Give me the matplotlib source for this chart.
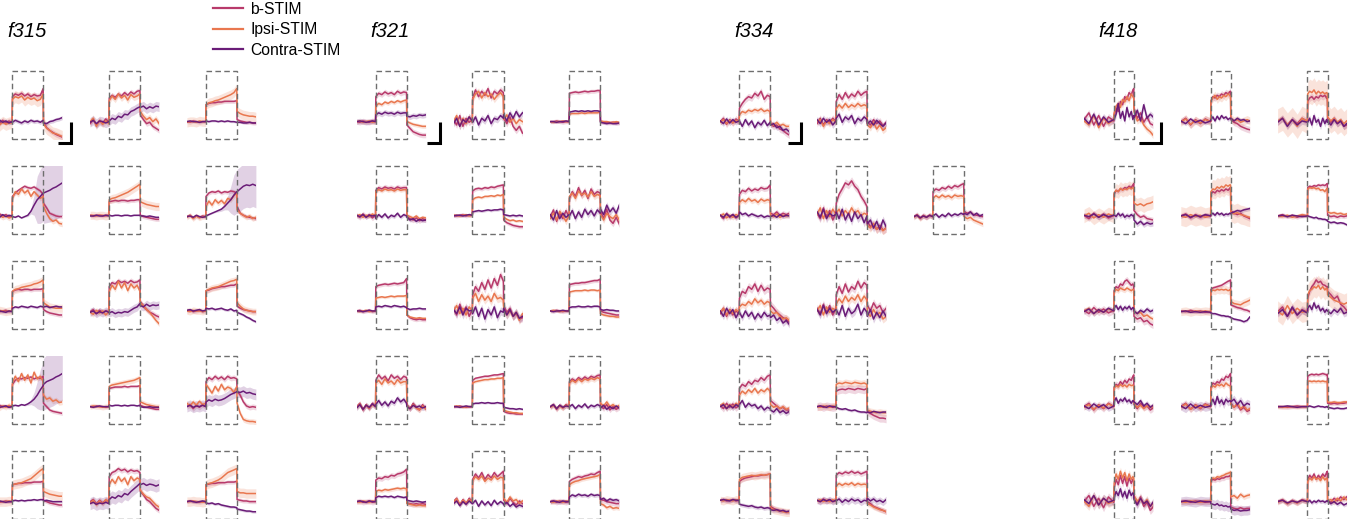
import numpy as np
import matplotlib.pyplot as plt
from matplotlib.patches import Rectangle
from matplotlib.lines import Line2D

plt.rcParams['font.family'] = ['Liberation Sans', 'DejaVu Sans']

# time axes (s); stimulus window is 0..stim
t_std = [-3, -2.5, -2, -1.5, -1, -0.5, 0, 0.05, 0.5, 1, 1.5, 2, 2.5, 3, 3.5, 4, 4.5, 4.95,
         5, 5.5, 6, 6.5, 7, 7.5, 8]
t_418 = [-2.75, -2.3, -1.85, -1.4, -0.95, -0.5, 0, 0.02, 0.2, 0.4, 0.6, 0.8, 1.0, 1.2, 1.4, 1.6,
         1.75, 1.83, 1.85, 2.15, 2.45, 2.75, 3.05, 3.35, 3.6]
stim_std = 5
stim_418 = 1.85

fish = ['f315', 'f321', 'f334', 'f418']
conditions = ['b-STIM', 'Ipsi-STIM', 'Contra-STIM']
colors = ['#b83a6b', '#e9774f', '#6a1c78']

# traces in % of the window height, 15 cells per fish (5 rows x 3 cols)
f315_b = [
    [24, 28, 22, 27, 23, 26, 24, 62, 66, 64, 67, 63, 66, 62, 65, 63, 64, 74, 24, 16, 12, 9, 6, 4, 2],
    [22, 28, 20, 26, 23, 29, 24, 60, 64, 61, 66, 63, 68, 64, 69, 66, 70, 71, 35, 28, 22, 24, 18, 15, 12],
    [25, 24, 26, 25, 24, 25, 25, 50, 52, 53, 53, 54, 54, 55, 55, 55, 55, 56, 28, 26, 25, 24, 24, 23, 23],
    [27, 25, 29, 26, 28, 25, 27, 55, 60, 64, 67, 70, 68, 67, 69, 66, 63, 58, 45, 38, 30, 28, 26, 25, 25],
    [27, 26, 27, 27, 26, 27, 27, 47, 48, 49, 48, 49, 49, 48, 49, 49, 50, 50, 27, 25, 24, 23, 22, 21, 21],
    [25, 27, 23, 26, 24, 26, 25, 55, 60, 62, 61, 63, 60, 62, 61, 63, 62, 60, 40, 30, 27, 25, 24, 23, 22],
    [26, 27, 25, 26, 27, 25, 26, 55, 57, 58, 57, 58, 58, 57, 58, 58, 58, 59, 28, 25, 23, 22, 21, 20, 20],
    [25, 28, 22, 27, 24, 26, 25, 62, 68, 66, 71, 68, 70, 67, 71, 68, 69, 72, 40, 33, 28, 24, 22, 19, 17],
    [26, 27, 25, 26, 27, 25, 26, 56, 57, 59, 60, 61, 62, 62, 63, 64, 64, 66, 33, 30, 28, 27, 26, 25, 25],
    [26, 24, 27, 25, 26, 24, 26, 58, 64, 67, 66, 68, 67, 69, 66, 68, 67, 70, 30, 25, 20, 18, 17, 16, 15],
    [25, 25, 26, 25, 25, 24, 25, 52, 53, 54, 54, 54, 55, 54, 55, 55, 55, 56, 27, 25, 24, 23, 22, 21, 21],
    [25, 28, 22, 27, 24, 28, 25, 62, 68, 65, 70, 66, 69, 65, 70, 67, 68, 66, 48, 42, 32, 26, 24, 25, 24],
    [25, 25, 24, 25, 26, 25, 25, 50, 51, 52, 52, 53, 53, 53, 54, 54, 54, 55, 27, 25, 23, 22, 21, 20, 20],
    [25, 28, 22, 27, 23, 27, 25, 62, 68, 70, 74, 71, 73, 69, 72, 70, 71, 68, 40, 35, 28, 25, 20, 15, 12],
    [25, 26, 25, 25, 24, 25, 25, 50, 51, 52, 52, 53, 53, 53, 54, 54, 54, 55, 28, 27, 26, 26, 25, 25, 25],
]
f315_i = [
    [22, 25, 20, 24, 21, 23, 23, 58, 62, 60, 63, 57, 61, 58, 60, 56, 58, 66, 22, 15, 12, 8, 7, 5, 3],
    [25, 30, 18, 27, 21, 26, 22, 56, 63, 58, 66, 60, 64, 57, 65, 61, 63, 66, 40, 33, 28, 31, 25, 29, 22],
    [24, 25, 25, 24, 26, 25, 25, 50, 53, 54, 56, 57, 59, 61, 63, 65, 68, 74, 40, 37, 35, 34, 33, 33, 32],
    [25, 22, 27, 24, 26, 23, 25, 52, 62, 58, 66, 60, 64, 55, 62, 57, 52, 55, 40, 30, 22, 18, 20, 15, 14],
    [27, 27, 26, 27, 27, 26, 27, 50, 52, 53, 55, 57, 59, 61, 64, 67, 70, 73, 47, 45, 43, 42, 41, 40, 40],
    [24, 27, 22, 26, 23, 25, 25, 40, 48, 42, 50, 45, 49, 44, 52, 50, 56, 60, 35, 30, 27, 24, 26, 22, 24],
    [26, 25, 27, 26, 25, 26, 26, 55, 58, 59, 61, 62, 63, 64, 66, 67, 69, 72, 38, 35, 32, 31, 30, 30, 30],
    [24, 21, 27, 23, 26, 20, 25, 55, 64, 58, 70, 60, 68, 56, 66, 60, 64, 55, 38, 34, 28, 24, 18, 12, 7],
    [26, 25, 27, 26, 26, 25, 26, 56, 58, 60, 61, 62, 64, 66, 68, 70, 71, 73, 38, 33, 29, 27, 26, 25, 25],
    [25, 27, 23, 26, 24, 27, 25, 60, 70, 62, 74, 64, 72, 60, 76, 66, 70, 62, 42, 36, 38, 33, 35, 31, 32],
    [25, 26, 25, 25, 24, 25, 25, 55, 57, 58, 59, 60, 61, 62, 63, 64, 66, 68, 32, 30, 28, 27, 26, 25, 25],
    [30, 26, 32, 27, 33, 28, 30, 58, 52, 45, 55, 48, 58, 50, 54, 52, 46, 55, 30, 15, 6, 4, 3, 3, 2],
    [25, 24, 25, 25, 25, 26, 25, 50, 51, 52, 53, 55, 57, 59, 63, 67, 71, 74, 40, 38, 36, 35, 34, 33, 33],
    [23, 27, 20, 26, 22, 28, 24, 50, 58, 52, 62, 55, 60, 50, 62, 56, 60, 58, 42, 36, 32, 30, 25, 20, 17],
    [25, 25, 26, 25, 25, 24, 25, 50, 52, 53, 55, 57, 60, 64, 68, 70, 72, 74, 40, 38, 38, 37, 37, 37, 37],
]
f315_c = [
    [26, 22, 27, 24, 26, 23, 25, 24, 27, 25, 23, 26, 24, 27, 25, 26, 24, 27, 23, 22, 25, 26, 28, 29, 31],
    [24, 27, 22, 26, 25, 23, 25, 26, 30, 28, 33, 31, 36, 35, 40, 42, 45, 47, 46, 48, 44, 47, 45, 48, 47],
    [25, 26, 25, 25, 24, 25, 25, 26, 25, 26, 26, 25, 26, 25, 26, 25, 25, 24, 24, 24, 23, 23, 24, 23, 23],
    [27, 26, 24, 28, 25, 27, 26, 25, 24, 26, 23, 25, 27, 33, 42, 50, 55, 60, 60, 62, 64, 67, 69, 72, 75],
    [26, 26, 27, 26, 26, 27, 26, 27, 26, 27, 27, 26, 27, 27, 26, 27, 27, 27, 26, 26, 25, 26, 25, 24, 24],
    [25, 26, 24, 27, 25, 24, 25, 26, 28, 30, 32, 34, 36, 40, 45, 50, 57, 62, 62, 66, 70, 72, 71, 73, 71],
    [25, 24, 26, 25, 24, 26, 25, 30, 32, 31, 33, 32, 31, 33, 32, 31, 33, 32, 32, 33, 31, 32, 33, 32, 32],
    [24, 26, 22, 25, 23, 26, 24, 23, 25, 22, 24, 23, 25, 24, 27, 30, 32, 37, 34, 32, 36, 33, 35, 34, 35],
    [27, 28, 26, 27, 28, 26, 27, 30, 29, 30, 28, 29, 30, 28, 27, 29, 26, 27, 24, 22, 20, 17, 15, 12, 10],
    [25, 26, 24, 25, 26, 24, 25, 26, 27, 26, 28, 27, 29, 32, 36, 42, 50, 56, 58, 62, 64, 66, 69, 71, 74],
    [25, 24, 25, 26, 25, 25, 25, 27, 26, 27, 27, 26, 27, 26, 27, 27, 26, 27, 25, 24, 24, 25, 24, 24, 24],
    [25, 27, 24, 26, 25, 27, 25, 32, 35, 33, 36, 34, 35, 37, 40, 43, 45, 47, 47, 46, 48, 45, 46, 44, 43],
    [25, 25, 26, 25, 24, 25, 25, 26, 27, 26, 27, 26, 27, 27, 28, 27, 28, 28, 26, 27, 26, 25, 25, 25, 25],
    [22, 24, 21, 23, 22, 24, 22, 28, 32, 30, 34, 32, 37, 35, 40, 44, 48, 52, 50, 52, 49, 51, 50, 48, 50],
    [25, 26, 25, 24, 25, 26, 25, 23, 22, 23, 21, 22, 20, 19, 18, 17, 17, 16, 14, 13, 12, 11, 11, 10, 10],
]
# the contra traces that drift late in the window have wide error bands
f315_c_sem_r2c1 = [1, 1, 1, 1, 1, 1, 1, 1, 1, 1, 1, 1, 2, 4, 15, 35, 40, 42, 45, 46, 47, 48, 48, 48, 48]
f315_c_sem_r2c3 = [1, 1, 1, 1, 1, 1, 1, 1, 1, 1, 1, 2, 3, 5, 10, 20, 30, 32, 33, 33, 33, 33, 33, 33, 33]
f315_c_sem_r4c1 = [1, 1, 1, 1, 1, 1, 1, 1, 1, 1, 1, 1, 2, 4, 10, 20, 30, 35, 38, 40, 40, 40, 40, 40, 40]
f315_sem = [[4, 9, 3], [4, 5, 7], [3, 7, 1.5],
            [3, 4, f315_c_sem_r2c1], [3, 6, 1], [3, 4, f315_c_sem_r2c3],
            [3, 6, 2], [4, 4, 6], [3, 5, 2],
            [3, 4, f315_c_sem_r4c1], [2, 4, 1], [4, 4, 8],
            [3, 7, 1.5], [4, 4, 9], [3, 7, 2]]

f321_b = [
    [25, 24, 26, 25, 24, 26, 25, 62, 67, 65, 69, 66, 68, 65, 70, 67, 69, 68, 20, 15, 10, 8, 6, 5, 5],
    [28, 20, 34, 18, 30, 24, 28, 60, 72, 62, 70, 64, 74, 60, 70, 66, 72, 68, 30, 22, 32, 18, 12, 18, 8],
    [25, 25, 26, 25, 24, 25, 25, 67, 68, 69, 68, 69, 70, 69, 70, 70, 71, 71, 25, 24, 24, 23, 24, 23, 23],
    [27, 24, 29, 25, 28, 23, 27, 64, 68, 66, 69, 67, 68, 66, 69, 67, 68, 68, 25, 22, 20, 23, 19, 22, 20],
    [27, 26, 27, 28, 26, 27, 27, 63, 66, 67, 66, 68, 67, 69, 68, 70, 71, 72, 20, 16, 14, 12, 11, 10, 10],
    [25, 35, 18, 30, 22, 34, 24, 52, 62, 55, 68, 56, 64, 52, 66, 58, 62, 60, 32, 22, 36, 20, 15, 24, 14],
    [26, 27, 25, 26, 27, 25, 26, 62, 64, 65, 66, 65, 66, 67, 66, 67, 68, 74, 20, 16, 14, 13, 14, 13, 13],
    [30, 20, 36, 24, 32, 18, 28, 50, 62, 55, 68, 58, 72, 60, 74, 64, 80, 70, 34, 24, 30, 18, 22, 14, 16],
    [26, 26, 27, 26, 25, 26, 26, 65, 66, 67, 67, 68, 68, 69, 70, 71, 71, 73, 26, 24, 23, 22, 21, 20, 20],
    [25, 30, 20, 28, 22, 30, 25, 64, 72, 66, 70, 63, 72, 67, 70, 65, 70, 68, 28, 22, 30, 24, 20, 28, 22],
    [25, 25, 26, 25, 24, 25, 25, 64, 67, 68, 69, 70, 70, 71, 72, 72, 73, 74, 18, 16, 15, 15, 14, 14, 14],
    [25, 28, 21, 27, 23, 28, 25, 62, 66, 63, 68, 65, 69, 66, 70, 68, 71, 72, 26, 22, 28, 20, 25, 21, 24],
    [25, 26, 24, 25, 26, 24, 25, 57, 60, 59, 62, 61, 64, 63, 66, 67, 69, 73, 23, 22, 21, 22, 21, 22, 21],
    [25, 30, 20, 28, 22, 30, 25, 58, 66, 60, 68, 58, 65, 60, 68, 62, 66, 70, 27, 22, 30, 24, 20, 26, 22],
    [25, 26, 24, 26, 25, 24, 25, 55, 58, 60, 62, 61, 63, 64, 66, 65, 68, 70, 28, 27, 25, 24, 23, 22, 22],
]
f321_i = [
    [25, 26, 24, 25, 26, 24, 25, 48, 52, 50, 54, 52, 55, 53, 56, 54, 56, 57, 25, 23, 21, 20, 19, 18, 18],
    [25, 34, 18, 30, 22, 32, 24, 58, 66, 70, 60, 68, 62, 66, 58, 64, 68, 62, 28, 35, 24, 30, 22, 28, 25],
    [25, 24, 25, 25, 26, 25, 25, 36, 37, 37, 37, 38, 37, 38, 38, 38, 38, 39, 26, 25, 25, 24, 24, 25, 24],
    [26, 28, 24, 27, 25, 29, 26, 62, 65, 63, 66, 64, 65, 63, 66, 64, 65, 65, 27, 25, 23, 26, 22, 24, 23],
    [27, 27, 26, 27, 28, 26, 27, 50, 53, 54, 53, 55, 55, 56, 55, 57, 56, 58, 24, 21, 19, 20, 18, 19, 18],
    [22, 30, 20, 33, 26, 18, 27, 55, 60, 52, 63, 57, 60, 54, 62, 55, 58, 56, 28, 20, 30, 25, 22, 28, 20],
    [26, 25, 26, 27, 25, 26, 26, 45, 46, 47, 46, 47, 48, 47, 48, 48, 48, 49, 20, 17, 16, 15, 16, 15, 15],
    [26, 34, 22, 30, 20, 32, 26, 45, 52, 40, 50, 42, 48, 40, 52, 44, 46, 42, 28, 20, 26, 18, 24, 12, 22],
    [26, 27, 26, 25, 26, 26, 26, 54, 55, 56, 56, 56, 57, 56, 57, 57, 56, 57, 22, 20, 19, 18, 18, 17, 17],
    [24, 29, 21, 27, 23, 28, 25, 60, 64, 58, 66, 60, 63, 58, 65, 60, 62, 62, 26, 22, 28, 23, 20, 26, 22],
    [25, 26, 25, 24, 25, 25, 25, 60, 62, 63, 64, 65, 65, 66, 66, 67, 67, 68, 20, 18, 17, 16, 16, 15, 15],
    [24, 27, 22, 26, 23, 27, 25, 60, 64, 61, 66, 62, 66, 64, 67, 65, 68, 66, 30, 26, 32, 25, 28, 24, 27],
    [25, 24, 26, 25, 24, 26, 25, 40, 42, 41, 43, 42, 43, 44, 45, 44, 45, 44, 22, 21, 20, 19, 20, 19, 19],
    [24, 29, 21, 27, 23, 28, 25, 56, 62, 58, 63, 55, 60, 57, 63, 58, 61, 60, 30, 24, 32, 26, 28, 22, 26],
    [25, 24, 26, 25, 24, 26, 25, 50, 53, 55, 56, 58, 59, 60, 61, 62, 63, 65, 22, 20, 16, 18, 15, 16, 15],
]
f321_c = [
    [25, 26, 25, 24, 25, 26, 25, 35, 38, 36, 39, 37, 38, 36, 39, 37, 38, 38, 33, 32, 34, 33, 35, 34, 35],
    [22, 30, 18, 28, 24, 32, 26, 24, 32, 20, 30, 26, 34, 22, 30, 28, 34, 30, 35, 26, 38, 30, 40, 32, 38],
    [25, 25, 24, 25, 25, 26, 25, 39, 40, 41, 40, 41, 40, 41, 40, 41, 41, 40, 24, 23, 22, 23, 22, 22, 23],
    [27, 25, 28, 24, 27, 26, 27, 22, 28, 24, 29, 23, 27, 25, 30, 24, 28, 26, 24, 20, 22, 18, 21, 19, 20],
    [26, 27, 27, 26, 27, 28, 27, 32, 33, 34, 33, 34, 35, 34, 35, 35, 36, 35, 28, 27, 26, 27, 26, 27, 26],
    [28, 20, 34, 22, 30, 24, 28, 26, 34, 22, 32, 24, 36, 28, 34, 26, 35, 30, 36, 28, 42, 32, 38, 30, 42],
    [26, 26, 25, 26, 27, 26, 26, 32, 33, 32, 34, 33, 32, 34, 33, 32, 33, 31, 30, 28, 29, 29, 30, 29, 29],
    [28, 22, 32, 20, 30, 26, 27, 22, 32, 18, 30, 14, 28, 20, 32, 16, 26, 24, 30, 20, 28, 18, 24, 15, 18],
    [26, 25, 26, 26, 27, 26, 26, 31, 32, 32, 33, 32, 32, 33, 32, 33, 33, 32, 28, 27, 28, 27, 27, 26, 26],
    [23, 28, 21, 27, 24, 29, 25, 28, 34, 27, 32, 26, 33, 30, 38, 32, 36, 30, 25, 22, 27, 24, 26, 23, 25],
    [25, 25, 24, 25, 26, 25, 25, 29, 30, 30, 31, 30, 31, 30, 30, 31, 30, 30, 24, 23, 22, 22, 21, 22, 21],
    [25, 28, 22, 27, 24, 26, 25, 25, 28, 22, 27, 24, 29, 23, 27, 25, 28, 26, 23, 27, 21, 25, 22, 26, 23],
    [25, 26, 25, 24, 26, 25, 25, 31, 33, 32, 33, 32, 33, 31, 33, 32, 31, 32, 27, 26, 25, 26, 25, 24, 25],
    [22, 26, 19, 25, 21, 26, 22, 22, 27, 18, 26, 20, 25, 19, 27, 21, 25, 22, 20, 24, 18, 22, 17, 20, 18],
    [25, 26, 25, 24, 26, 25, 25, 32, 35, 33, 36, 34, 35, 33, 36, 34, 35, 34, 28, 30, 26, 29, 27, 28, 26],
]
f321_sem = [[4, 3, 4], [5, 5, 5], [3, 2, 2], [4, 3, 3], [3, 2, 2], [5, 5, 5], [3, 2, 2], [6, 6, 6],
            [3, 2, 2], [4, 4, 4], [2, 2, 1.5], [4, 4, 3], [4, 3, 2], [4, 4, 3], [4, 3, 3]]

f334_b = [
    [25, 30, 21, 28, 23, 29, 25, 45, 52, 58, 62, 60, 67, 63, 70, 58, 64, 62, 22, 18, 20, 14, 12, 8, 5],
    [22, 30, 20, 28, 24, 30, 25, 55, 65, 58, 68, 60, 66, 62, 70, 64, 68, 70, 25, 20, 28, 22, 26, 19, 24],
    None,
    [27, 22, 30, 24, 28, 23, 27, 58, 64, 62, 67, 63, 66, 64, 68, 66, 67, 72, 30, 28, 32, 27, 30, 28, 30],
    [30, 22, 38, 25, 34, 20, 30, 45, 58, 66, 75, 72, 78, 70, 65, 55, 48, 40, 18, 10, 14, 6, 12, 5, 8],
    [25, 28, 23, 27, 24, 27, 25, 62, 66, 64, 68, 66, 70, 67, 71, 69, 72, 74, 33, 30, 32, 28, 27, 26, 25],
    [22, 30, 18, 28, 20, 26, 22, 45, 55, 52, 62, 58, 66, 55, 64, 56, 60, 58, 35, 30, 24, 20, 16, 14, 10],
    [30, 22, 36, 24, 34, 20, 30, 50, 62, 52, 66, 54, 62, 58, 70, 60, 68, 64, 35, 26, 38, 30, 34, 24, 30],
    None,
    [27, 22, 30, 24, 29, 23, 27, 52, 58, 55, 62, 58, 64, 62, 68, 64, 70, 72, 34, 30, 26, 22, 24, 20, 20],
    [25, 26, 24, 26, 25, 24, 25, 48, 50, 51, 50, 52, 51, 50, 52, 51, 50, 52, 18, 15, 12, 10, 8, 8, 7],
    None,
    [27, 28, 26, 27, 28, 26, 27, 55, 58, 60, 61, 62, 63, 63, 64, 64, 65, 66, 18, 15, 13, 12, 11, 10, 10],
    [27, 25, 29, 26, 28, 25, 27, 64, 68, 66, 69, 67, 70, 67, 69, 66, 68, 70, 25, 22, 18, 16, 14, 12, 10],
    None,
]
f334_i = [
    [24, 28, 22, 27, 23, 27, 25, 35, 40, 38, 42, 40, 43, 41, 44, 40, 42, 40, 22, 20, 24, 19, 21, 18, 18],
    [25, 28, 18, 26, 22, 28, 24, 44, 50, 45, 52, 46, 50, 47, 52, 48, 50, 48, 20, 16, 24, 14, 20, 12, 16],
    None,
    [26, 29, 23, 27, 24, 28, 26, 46, 50, 47, 52, 48, 50, 46, 51, 48, 50, 49, 27, 25, 29, 24, 27, 26, 27],
    [28, 38, 22, 34, 25, 36, 28, 30, 36, 26, 34, 28, 38, 30, 34, 26, 30, 28, 12, 8, 15, 6, 10, 4, 8],
    [24, 27, 22, 26, 24, 27, 25, 52, 56, 53, 57, 54, 56, 53, 57, 55, 56, 55, 25, 22, 24, 20, 18, 16, 14],
    [24, 30, 20, 28, 22, 28, 24, 32, 36, 34, 40, 36, 44, 38, 42, 36, 40, 38, 26, 22, 24, 18, 14, 16, 12],
    [26, 34, 20, 32, 24, 30, 26, 36, 44, 38, 48, 40, 46, 42, 50, 40, 48, 42, 24, 18, 28, 20, 24, 14, 18],
    None,
    [26, 30, 22, 28, 24, 30, 26, 42, 48, 44, 50, 46, 52, 45, 50, 47, 52, 48, 28, 24, 26, 22, 25, 21, 23],
    [25, 24, 26, 25, 24, 26, 25, 58, 60, 59, 61, 60, 59, 61, 60, 59, 60, 58, 20, 18, 17, 16, 17, 16, 16],
    None,
    [27, 26, 28, 27, 26, 28, 27, 58, 61, 62, 63, 64, 63, 64, 65, 64, 65, 66, 16, 13, 12, 11, 10, 9, 9],
    [26, 28, 25, 27, 25, 28, 26, 48, 52, 49, 52, 50, 53, 49, 52, 50, 51, 50, 22, 20, 17, 15, 13, 12, 10],
    None,
]
f334_c = [
    [26, 22, 29, 23, 28, 24, 26, 26, 18, 28, 20, 26, 16, 24, 20, 27, 19, 24, 20, 22, 16, 18, 12, 14, 10],
    [28, 22, 30, 24, 28, 20, 26, 30, 36, 24, 32, 28, 34, 22, 30, 26, 32, 28, 22, 26, 20, 27, 22, 18, 23],
    None,
    [27, 24, 29, 25, 28, 24, 27, 32, 28, 30, 26, 29, 27, 25, 27, 24, 26, 25, 25, 27, 24, 28, 25, 27, 26],
    [32, 24, 36, 22, 30, 26, 28, 32, 22, 36, 20, 30, 18, 32, 22, 28, 16, 26, 14, 20, 8, 18, 6, 20, 10],
    [25, 27, 23, 26, 24, 27, 25, 26, 29, 24, 28, 25, 30, 26, 29, 27, 30, 28, 30, 28, 32, 27, 30, 26, 28],
    [26, 18, 30, 22, 28, 16, 25, 24, 16, 26, 18, 24, 14, 22, 16, 24, 18, 20, 16, 20, 12, 16, 8, 12, 6],
    [28, 20, 34, 22, 30, 24, 28, 28, 20, 34, 18, 30, 22, 26, 36, 20, 30, 24, 18, 28, 14, 24, 16, 26, 18],
    None,
    [25, 28, 22, 27, 23, 28, 25, 28, 34, 24, 30, 26, 28, 22, 26, 20, 24, 22, 20, 17, 22, 16, 19, 15, 18],
    [25, 26, 25, 24, 26, 25, 25, 24, 22, 21, 22, 20, 19, 20, 18, 17, 17, 16, 17, 16, 18, 17, 16, 17, 17],
    None,
    [27, 28, 27, 26, 28, 27, 27, 21, 20, 19, 18, 19, 17, 16, 17, 15, 16, 15, 13, 12, 13, 11, 12, 10, 11],
    [27, 25, 28, 26, 28, 25, 27, 26, 29, 24, 28, 25, 29, 26, 28, 24, 27, 26, 30, 26, 29, 25, 27, 24, 28],
    None,
]
f334_sem = [[5, 4, 4], [5, 5, 5], None, [4, 4, 3], [6, 6, 6], [4, 4, 3], [6, 5, 5], [6, 6, 6],
            None, [5, 4, 4], [6, 5, 2], None, [4, 6, 3], [4, 4, 5], None]

f418_b = [
    [28, 38, 20, 34, 18, 32, 26, 35, 45, 40, 55, 50, 62, 58, 68, 64, 72, 74, 45, 30, 38, 24, 32, 22, 20],
    [25, 30, 20, 28, 22, 29, 25, 55, 62, 60, 64, 62, 66, 64, 68, 66, 69, 70, 28, 24, 22, 18, 16, 14, 13],
    [25, 30, 20, 28, 22, 30, 25, 55, 60, 62, 58, 62, 60, 64, 62, 64, 60, 62, 28, 24, 30, 22, 26, 18, 20],
    [27, 22, 30, 24, 29, 23, 27, 58, 64, 62, 66, 65, 68, 67, 70, 68, 72, 74, 34, 28, 24, 26, 22, 21, 20],
    [26, 29, 23, 28, 24, 27, 26, 58, 62, 60, 64, 62, 65, 63, 66, 64, 67, 68, 34, 30, 28, 30, 26, 24, 22],
    [26, 28, 25, 27, 24, 27, 26, 68, 70, 69, 71, 70, 72, 71, 72, 71, 73, 74, 27, 25, 26, 24, 26, 25, 26],
    [27, 22, 31, 24, 29, 23, 27, 56, 62, 60, 66, 64, 70, 72, 68, 64, 66, 62, 18, 14, 16, 10, 12, 7, 5],
    [26, 25, 27, 25, 26, 24, 25, 58, 60, 61, 62, 63, 64, 66, 68, 70, 71, 72, 35, 33, 31, 30, 28, 27, 25],
    [25, 32, 18, 30, 20, 28, 24, 45, 55, 62, 66, 72, 68, 70, 65, 64, 62, 62, 55, 50, 44, 48, 36, 32, 27],
    [25, 30, 20, 28, 22, 30, 25, 54, 58, 56, 62, 58, 64, 60, 66, 64, 70, 72, 28, 22, 30, 24, 26, 20, 23],
    [25, 30, 21, 28, 22, 29, 25, 54, 60, 58, 62, 60, 66, 64, 70, 68, 72, 74, 30, 24, 28, 20, 24, 18, 20],
    [25, 25, 24, 25, 26, 25, 25, 70, 72, 73, 72, 73, 72, 73, 74, 73, 72, 73, 30, 29, 30, 29, 30, 30, 31],
    [25, 34, 18, 30, 16, 32, 24, 45, 58, 50, 64, 52, 62, 48, 60, 52, 58, 55, 30, 22, 32, 18, 24, 12, 17],
    [25, 26, 24, 26, 25, 24, 25, 56, 58, 57, 59, 58, 60, 60, 62, 62, 63, 64, 17, 15, 14, 16, 14, 15, 15],
    [25, 28, 22, 27, 23, 28, 25, 58, 64, 60, 66, 58, 64, 60, 66, 62, 68, 70, 27, 24, 30, 26, 32, 28, 32],
]
f418_i = [
    [26, 20, 34, 16, 30, 22, 28, 38, 48, 52, 46, 58, 54, 62, 56, 66, 62, 60, 40, 26, 30, 20, 14, 10, 5],
    [24, 29, 21, 27, 23, 28, 25, 56, 60, 64, 58, 62, 60, 64, 62, 66, 64, 62, 30, 26, 28, 24, 26, 28, 26],
    [26, 30, 20, 28, 18, 30, 25, 66, 70, 68, 72, 66, 70, 67, 69, 66, 68, 67, 32, 26, 30, 24, 28, 22, 26],
    [26, 30, 23, 28, 24, 29, 26, 60, 64, 62, 67, 64, 66, 65, 68, 66, 68, 68, 45, 42, 44, 41, 44, 45, 47],
    [26, 24, 28, 25, 27, 24, 26, 62, 66, 65, 69, 67, 70, 68, 72, 70, 72, 72, 32, 29, 31, 28, 27, 25, 24],
    [26, 25, 27, 24, 26, 28, 26, 66, 68, 67, 68, 66, 67, 64, 65, 62, 66, 67, 32, 30, 31, 29, 30, 28, 29],
    [26, 30, 22, 28, 24, 29, 26, 54, 58, 56, 60, 58, 57, 60, 58, 56, 58, 57, 25, 22, 24, 18, 20, 16, 14],
    [25, 26, 24, 26, 25, 26, 25, 55, 57, 56, 58, 57, 58, 57, 58, 56, 57, 58, 40, 37, 36, 35, 38, 40, 42],
    [26, 20, 34, 22, 30, 24, 26, 50, 56, 58, 62, 60, 64, 58, 62, 57, 60, 58, 50, 46, 42, 40, 38, 36, 38],
    [24, 28, 21, 27, 23, 29, 25, 52, 56, 54, 58, 55, 57, 54, 58, 56, 57, 55, 30, 24, 27, 22, 26, 24, 25],
    [24, 29, 21, 27, 23, 28, 25, 52, 56, 54, 58, 56, 58, 55, 60, 57, 56, 55, 28, 24, 30, 22, 26, 20, 22],
    [25, 24, 25, 25, 24, 25, 25, 62, 63, 62, 63, 62, 63, 62, 63, 62, 62, 63, 32, 31, 32, 31, 31, 32, 32],
    [26, 18, 34, 20, 30, 22, 26, 52, 66, 58, 70, 60, 68, 56, 66, 58, 62, 60, 34, 26, 30, 22, 28, 18, 22],
    [25, 24, 26, 25, 24, 26, 25, 58, 60, 59, 62, 61, 63, 64, 66, 67, 68, 69, 32, 34, 30, 36, 32, 34, 35],
    [24, 27, 22, 26, 23, 27, 25, 55, 60, 57, 62, 58, 60, 56, 62, 57, 60, 58, 26, 28, 24, 30, 26, 32, 28],
]
f418_c = [
    [30, 22, 36, 20, 32, 24, 28, 28, 36, 52, 30, 40, 26, 46, 32, 40, 28, 34, 30, 42, 26, 50, 30, 36, 32],
    [26, 22, 29, 24, 27, 23, 26, 28, 32, 26, 33, 28, 34, 30, 32, 28, 30, 30, 30, 26, 30, 27, 28, 25, 26],
    [24, 30, 18, 28, 20, 26, 24, 24, 30, 20, 34, 24, 28, 18, 30, 22, 28, 24, 26, 20, 28, 22, 26, 18, 22],
    [27, 25, 29, 24, 28, 25, 27, 28, 25, 30, 26, 29, 24, 27, 25, 28, 26, 27, 20, 14, 18, 13, 16, 14, 15],
    [26, 28, 24, 27, 25, 28, 26, 28, 30, 27, 31, 28, 30, 27, 29, 28, 30, 29, 30, 32, 34, 33, 35, 36, 37],
    [26, 27, 25, 27, 26, 25, 26, 26, 25, 24, 23, 24, 22, 22, 21, 21, 20, 20, 18, 16, 17, 15, 16, 15, 13],
    [25, 29, 22, 28, 24, 30, 26, 30, 34, 28, 33, 27, 32, 29, 33, 28, 31, 30, 26, 22, 27, 24, 29, 25, 27],
    [25, 26, 24, 25, 24, 25, 24, 23, 22, 22, 21, 20, 19, 19, 18, 18, 17, 17, 16, 14, 13, 12, 10, 12, 17],
    [22, 28, 18, 32, 20, 27, 23, 30, 34, 28, 38, 30, 34, 26, 30, 24, 28, 26, 26, 22, 28, 24, 30, 22, 24],
    [26, 22, 29, 24, 28, 22, 26, 32, 38, 30, 36, 33, 38, 32, 35, 30, 34, 33, 32, 28, 34, 26, 30, 24, 27],
    [26, 22, 29, 23, 27, 24, 26, 30, 36, 28, 40, 30, 35, 28, 36, 32, 34, 33, 32, 36, 28, 34, 26, 30, 28],
    [25, 25, 26, 25, 24, 25, 25, 25, 26, 25, 24, 25, 26, 25, 25, 24, 25, 25, 24, 23, 22, 23, 22, 22, 23],
    [28, 22, 34, 20, 30, 24, 27, 30, 40, 34, 44, 32, 40, 30, 42, 34, 38, 36, 28, 20, 30, 22, 26, 18, 24],
    [25, 26, 25, 24, 26, 25, 25, 22, 21, 20, 22, 19, 20, 18, 19, 17, 18, 16, 14, 12, 13, 11, 12, 12, 13],
    [25, 27, 23, 26, 24, 27, 25, 24, 27, 23, 26, 24, 27, 25, 26, 24, 26, 25, 26, 22, 25, 21, 24, 20, 22],
]
f418_sem = [[5, 5, 5], [5, 6, 3], [5, 18, 5], [4, 10, 4], [4, 14, 3], [3, 3, 2], [5, 4, 4], [3, 6, 2],
            [6, 15, 5], [5, 4, 4], [5, 4, 6], [3, 3, 1.5], [6, 6, 6], [4, 4, 7], [4, 4, 3]]

times = [t_std, t_std, t_std, t_418]
stims = [stim_std, stim_std, stim_std, stim_418]
traces = [(f315_b, f315_i, f315_c), (f321_b, f321_i, f321_c),
          (f334_b, f334_i, f334_c), (f418_b, f418_i, f418_c)]
sems = [f315_sem, f321_sem, f334_sem, f418_sem]

# layout in pixels
W, H = 1354, 519
group_left = [-6.7, 356.7, 720.3, 1084]
col_pitch, row_pitch = 96.8, 95
ax_w, ax_h, top0 = 69, 67.5, 71
bar_frac = [0.942, 1.023, 0.981, 0.797]

fig = plt.figure(figsize=(W / 100, H / 100), dpi=100)

for g, name in enumerate(fish):
    t = np.array(times[g], dtype=float)
    stim = stims[g]
    for k in range(15):
        if traces[g][0][k] is None:
            continue
        r, c = divmod(k, 3)
        left = group_left[g] + c * col_pitch
        top = top0 + r * row_pitch
        ax = fig.add_axes([left / W, 1 - (top + ax_h) / H, ax_w / W, ax_h / H])
        ax.set_xlim(t[0], t[-1])
        ax.set_ylim(0, 100)
        ax.axis('off')
        for j in range(3):
            y = np.array(traces[g][j][k], dtype=float)
            s = np.broadcast_to(np.array(sems[g][k][j], dtype=float), y.shape)
            ax.fill_between(t, y - s, y + s, color=colors[j], alpha=0.2, lw=0)
            ax.plot(t, y, color=colors[j], lw=1.1)
        ax.add_patch(Rectangle((0, 0), stim, 100, fill=False, ec='#6e6e6e', lw=1.0,
                               ls=(0, (4, 2.4)), clip_on=False, zorder=5))
        if k == 0:
            x0 = t[0] + bar_frac[g] * (t[-1] - t[0])
            ax.plot([x0, x0 + 2, x0 + 2], [-7, -7, 24], color='black', lw=2.2,
                    clip_on=False, solid_joinstyle='miter', solid_capstyle='butt')
    fig.text((group_left[g] + 14) / W, 1 - 37 / H, name, fontsize=14.5, style='italic',
             va='baseline', ha='left')

handles = [Line2D([], [], color=col, lw=1.6) for col in colors]
fig.legend(handles, conditions, loc='upper left', bbox_to_anchor=(213.3 / W, 0.997),
           frameon=False, fontsize=11.3, handlelength=1.9, handletextpad=0.45,
           labelspacing=0.35, borderpad=0, borderaxespad=0)

fig.savefig('out.png', dpi=100)
